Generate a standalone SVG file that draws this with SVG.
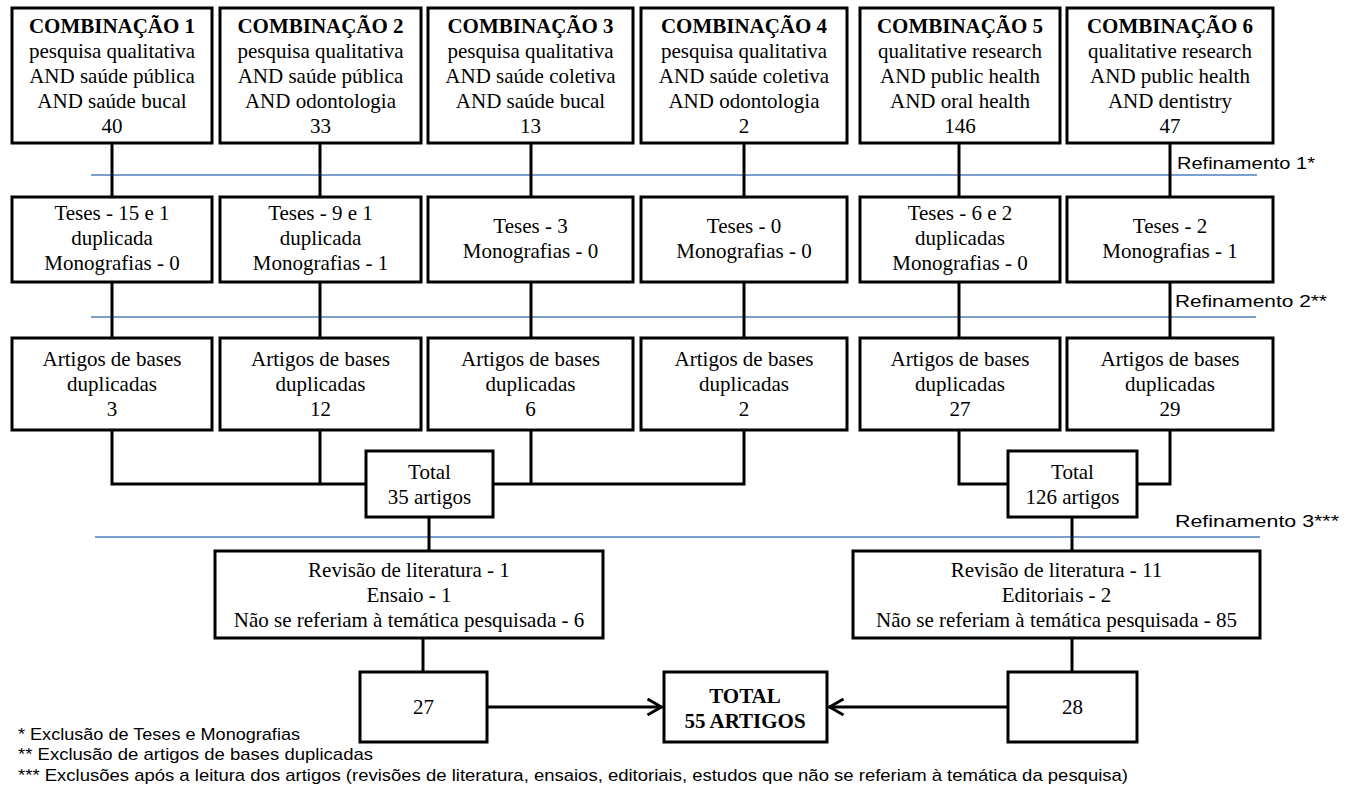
<svg xmlns="http://www.w3.org/2000/svg" width="1349" height="793" viewBox="0 0 1349 793">
<defs>
<style>
.box{fill:#fff;stroke:#000;stroke-width:3}
.t{font-family:"Liberation Serif","Times New Roman",serif;font-size:21px;fill:#000;text-anchor:middle}
.b{font-weight:bold}
.c{fill:none;stroke:#000;stroke-width:3}
.ref{fill:none;stroke:#4f81bd;stroke-width:1.3}
.s{font-family:"Liberation Sans",Arial,sans-serif;font-size:17px;fill:#000}
</style>
<marker id="arr" viewBox="0 0 17 19" refX="16" refY="9.5" markerWidth="17" markerHeight="19" markerUnits="userSpaceOnUse" orient="auto">
<path d="M1.5,1.5 L15.5,9.5 L1.5,17.5" fill="none" stroke="#000" stroke-width="3"/>
</marker>
</defs>
<rect width="1349" height="793" fill="#fff"/>

<g id="refinement-lines">
<line class="ref" x1="91" y1="175" x2="1257" y2="175"/>
<line class="ref" x1="91" y1="317" x2="1256" y2="317"/>
<line class="ref" x1="95" y1="537" x2="1260" y2="537"/>
<text class="s" x="1177" y="169" textLength="138" lengthAdjust="spacingAndGlyphs">Refinamento 1*</text>
<text class="s" x="1175" y="307" textLength="152" lengthAdjust="spacingAndGlyphs">Refinamento 2**</text>
<text class="s" x="1175" y="527" textLength="164" lengthAdjust="spacingAndGlyphs">Refinamento 3***</text>
</g>

<g id="connectors">
<line class="c" x1="112" y1="143" x2="112" y2="197"/>
<line class="c" x1="320" y1="143" x2="320" y2="197"/>
<line class="c" x1="531" y1="143" x2="531" y2="197"/>
<line class="c" x1="744" y1="143" x2="744" y2="197"/>
<line class="c" x1="959" y1="143" x2="959" y2="197"/>
<line class="c" x1="1170" y1="143" x2="1170" y2="197"/>
<line class="c" x1="112" y1="282" x2="112" y2="338"/>
<line class="c" x1="320" y1="282" x2="320" y2="338"/>
<line class="c" x1="531" y1="282" x2="531" y2="338"/>
<line class="c" x1="744" y1="282" x2="744" y2="338"/>
<line class="c" x1="959" y1="282" x2="959" y2="338"/>
<line class="c" x1="1170" y1="282" x2="1170" y2="338"/>
<polyline class="c" points="112,430 112,484 744,484 744,430"/>
<line class="c" x1="320" y1="430" x2="320" y2="484"/>
<line class="c" x1="531" y1="430" x2="531" y2="484"/>
<polyline class="c" points="959,430 959,484 1170,484 1170,430"/>
<line class="c" x1="429" y1="517" x2="429" y2="551"/>
<line class="c" x1="1072" y1="517" x2="1072" y2="551"/>
<line class="c" x1="423" y1="638" x2="423" y2="672"/>
<line class="c" x1="1072" y1="638" x2="1072" y2="672"/>
<line class="c" x1="487" y1="707" x2="662" y2="707" marker-end="url(#arr)"/>
<line class="c" x1="1008" y1="707" x2="829" y2="707" marker-end="url(#arr)"/>
</g>

<g id="comb1"><rect class="box" x="12" y="8" width="200" height="135"/>
<text class="t b" x="112" y="33">COMBINAÇÃO 1</text>
<text class="t" x="112" y="58">pesquisa qualitativa</text>
<text class="t" x="112" y="83">AND saúde pública</text>
<text class="t" x="112" y="108">AND saúde bucal</text>
<text class="t" x="112" y="133">40</text></g>
<g id="comb2"><rect class="box" x="220" y="8" width="201" height="135"/>
<text class="t b" x="320.5" y="33">COMBINAÇÃO 2</text>
<text class="t" x="320.5" y="58">pesquisa qualitativa</text>
<text class="t" x="320.5" y="83">AND saúde pública</text>
<text class="t" x="320.5" y="108">AND odontologia</text>
<text class="t" x="320.5" y="133">33</text></g>
<g id="comb3"><rect class="box" x="428" y="8" width="205" height="135"/>
<text class="t b" x="530.5" y="33">COMBINAÇÃO 3</text>
<text class="t" x="530.5" y="58">pesquisa qualitativa</text>
<text class="t" x="530.5" y="83">AND saúde coletiva</text>
<text class="t" x="530.5" y="108">AND saúde bucal</text>
<text class="t" x="530.5" y="133">13</text></g>
<g id="comb4"><rect class="box" x="641" y="8" width="206" height="135"/>
<text class="t b" x="744" y="33">COMBINAÇÃO 4</text>
<text class="t" x="744" y="58">pesquisa qualitativa</text>
<text class="t" x="744" y="83">AND saúde coletiva</text>
<text class="t" x="744" y="108">AND odontologia</text>
<text class="t" x="744" y="133">2</text></g>
<g id="comb5"><rect class="box" x="860" y="8" width="200" height="135"/>
<text class="t b" x="960" y="33">COMBINAÇÃO 5</text>
<text class="t" x="960" y="58">qualitative research</text>
<text class="t" x="960" y="83">AND public health</text>
<text class="t" x="960" y="108">AND oral health</text>
<text class="t" x="960" y="133">146</text></g>
<g id="comb6"><rect class="box" x="1067" y="8" width="206" height="135"/>
<text class="t b" x="1170" y="33">COMBINAÇÃO 6</text>
<text class="t" x="1170" y="58">qualitative research</text>
<text class="t" x="1170" y="83">AND public health</text>
<text class="t" x="1170" y="108">AND dentistry</text>
<text class="t" x="1170" y="133">47</text></g>

<g id="teses1"><rect class="box" x="12" y="197" width="200" height="85"/>
<text class="t" x="112" y="220">Teses - 15 e 1</text>
<text class="t" x="112" y="245">duplicada</text>
<text class="t" x="112" y="270">Monografias - 0</text></g>
<g id="teses2"><rect class="box" x="220" y="197" width="201" height="85"/>
<text class="t" x="320.5" y="220">Teses - 9 e 1</text>
<text class="t" x="320.5" y="245">duplicada</text>
<text class="t" x="320.5" y="270">Monografias - 1</text></g>
<g id="teses3"><rect class="box" x="428" y="197" width="205" height="85"/>
<text class="t" x="530.5" y="233">Teses - 3</text>
<text class="t" x="530.5" y="258">Monografias - 0</text></g>
<g id="teses4"><rect class="box" x="641" y="197" width="206" height="85"/>
<text class="t" x="744" y="233">Teses - 0</text>
<text class="t" x="744" y="258">Monografias - 0</text></g>
<g id="teses5"><rect class="box" x="860" y="197" width="200" height="85"/>
<text class="t" x="960" y="220">Teses - 6 e 2</text>
<text class="t" x="960" y="245">duplicadas</text>
<text class="t" x="960" y="270">Monografias - 0</text></g>
<g id="teses6"><rect class="box" x="1067" y="197" width="206" height="85"/>
<text class="t" x="1170" y="233">Teses - 2</text>
<text class="t" x="1170" y="258">Monografias - 1</text></g>

<g id="art1"><rect class="box" x="12" y="338" width="200" height="92"/>
<text class="t" x="112" y="366">Artigos de bases</text>
<text class="t" x="112" y="391">duplicadas</text>
<text class="t" x="112" y="416">3</text></g>
<g id="art2"><rect class="box" x="220" y="338" width="201" height="92"/>
<text class="t" x="320.5" y="366">Artigos de bases</text>
<text class="t" x="320.5" y="391">duplicadas</text>
<text class="t" x="320.5" y="416">12</text></g>
<g id="art3"><rect class="box" x="428" y="338" width="205" height="92"/>
<text class="t" x="530.5" y="366">Artigos de bases</text>
<text class="t" x="530.5" y="391">duplicadas</text>
<text class="t" x="530.5" y="416">6</text></g>
<g id="art4"><rect class="box" x="641" y="338" width="206" height="92"/>
<text class="t" x="744" y="366">Artigos de bases</text>
<text class="t" x="744" y="391">duplicadas</text>
<text class="t" x="744" y="416">2</text></g>
<g id="art5"><rect class="box" x="860" y="338" width="200" height="92"/>
<text class="t" x="960" y="366">Artigos de bases</text>
<text class="t" x="960" y="391">duplicadas</text>
<text class="t" x="960" y="416">27</text></g>
<g id="art6"><rect class="box" x="1067" y="338" width="206" height="92"/>
<text class="t" x="1170" y="366">Artigos de bases</text>
<text class="t" x="1170" y="391">duplicadas</text>
<text class="t" x="1170" y="416">29</text></g>

<g id="total1"><rect class="box" x="366" y="451" width="127" height="66"/>
<text class="t" x="429.5" y="479">Total</text>
<text class="t" x="429.5" y="504">35 artigos</text></g>
<g id="total2"><rect class="box" x="1008" y="451" width="129" height="66"/>
<text class="t" x="1072.5" y="479">Total</text>
<text class="t" x="1072.5" y="504">126 artigos</text></g>

<g id="excl1"><rect class="box" x="215" y="551" width="388" height="87"/>
<text class="t" x="409" y="577">Revisão de literatura - 1</text>
<text class="t" x="409" y="602">Ensaio - 1</text>
<text class="t" x="409" y="627">Não se referiam à temática pesquisada - 6</text></g>
<g id="excl2"><rect class="box" x="853" y="551" width="407" height="87"/>
<text class="t" x="1056.5" y="577">Revisão de literatura - 11</text>
<text class="t" x="1056.5" y="602">Editoriais - 2</text>
<text class="t" x="1056.5" y="627">Não se referiam à temática pesquisada - 85</text></g>

<g id="n27"><rect class="box" x="360" y="672" width="127" height="70"/>
<text class="t" x="423.5" y="714">27</text></g>
<g id="total55"><rect class="box" x="664" y="672" width="163" height="70"/>
<text class="t b" x="745" y="703">TOTAL</text>
<text class="t b" x="745" y="728">55 ARTIGOS</text></g>
<g id="n28"><rect class="box" x="1008" y="672" width="129" height="70"/>
<text class="t" x="1072.5" y="714">28</text></g>

<g id="footnotes">
<text class="s" x="18" y="740" textLength="282" lengthAdjust="spacingAndGlyphs">* Exclusão de Teses e Monografias</text>
<text class="s" x="18" y="760" textLength="355" lengthAdjust="spacingAndGlyphs">** Exclusão de artigos  de bases  duplicadas</text>
<text class="s" x="18" y="781" textLength="1110" lengthAdjust="spacingAndGlyphs">*** Exclusões após a leitura dos artigos (revisões de literatura, ensaios, editoriais, estudos que não se referiam à temática da pesquisa)</text>
</g>
</svg>
